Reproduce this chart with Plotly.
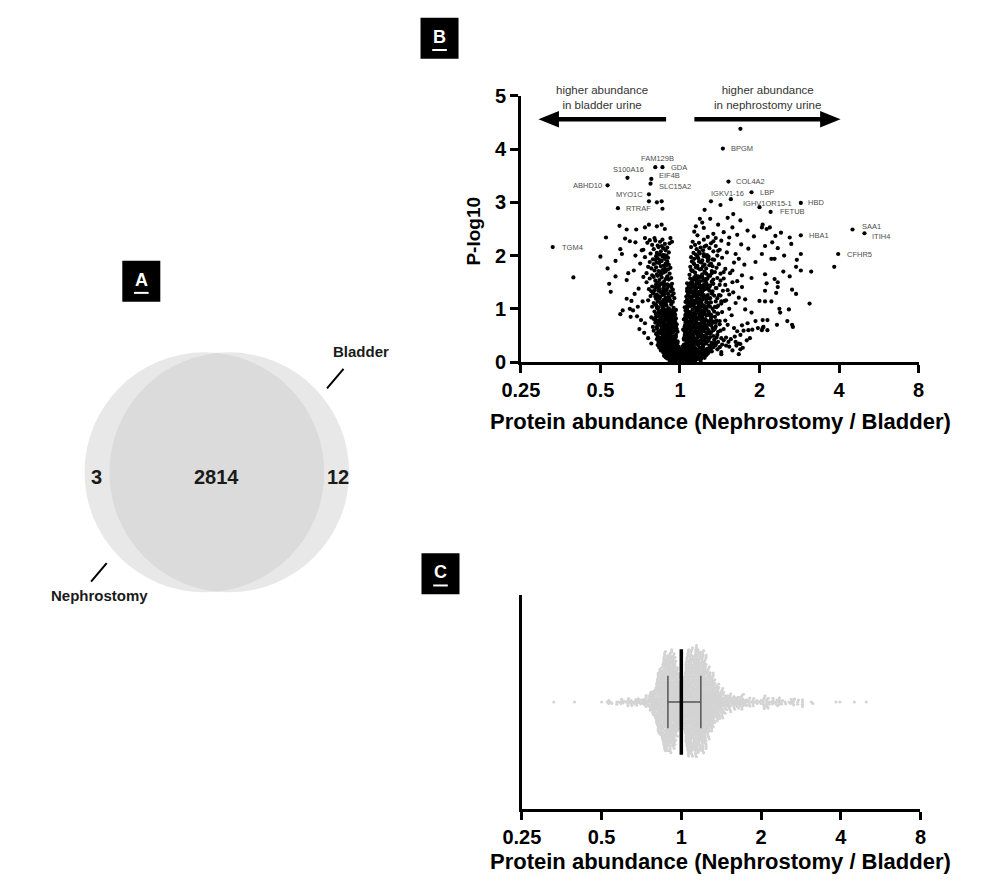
import numpy as np
import plotly.graph_objects as go

W, H = 983, 892
FONT = "Liberation Sans, Arial, sans-serif"

# ---------------- Panel A: Venn counts ----------------
venn_only_nephrostomy = 3
venn_shared = 2814
venn_only_bladder = 12
venn_set_names = ["Nephrostomy", "Bladder"]

# ---------------- Panel B: labelled proteins ----------------
label_names = ["TGM4", "ABHD10", "S100A16", "FAM129B", "GDA", "EIF4B", "SLC15A2", "MYO1C", "RTRAF",
               "BPGM", "COL4A2", "LBP", "IGKV1-16", "IGHV1OR15-1", "HBD", "FETUB", "HBA1", "SAA1",
               "ITIH4", "CFHR5"]
label_log2 = [-1.60, -0.91, -0.66, -0.31, -0.22, -0.36, -0.37, -0.39, -0.78,
              0.54, 0.61, 0.90, 0.64, 1.00, 1.52, 1.14, 1.52, 2.17, 2.32, 1.99]
label_p = [2.16, 3.32, 3.46, 3.66, 3.66, 3.44, 3.35, 3.15, 2.89,
           4.01, 3.39, 3.19, 3.06, 2.91, 2.99, 2.82, 2.38, 2.49, 2.42, 2.03]
# text offset of each label from its point (px) and its anchor
label_dx = [7, -4, 1, 2, 7, 6, 6, -4, 6, 6, 6, 6, -3, 8, 5, 7, 6, 7, 6, 7]
label_dy = [0, 0, 8, 9, 0, 3, -3, 0, 0, 0, 0, 0, 6, 4, 0, 0, 0, 3, -3, 0]
label_anchor = ["left", "right", "center", "center", "left", "left", "left", "right", "left",
                "left", "left", "left", "center", "center", "left", "left", "left", "left",
                "left", "left"]

# ---------------- Panel B: unlabelled proteins ----------------
# unchanged proteins around the vertex, -log10 p 0 - 0.3
vertex_log2 = [
    .00, -.02, .03, -.04, .01, .05, -.06, .06, -.01, .02,
    -.03, .07, .04, -.07, -.05, .01, .08, .04, -.02, -.08,
    .03, -.04, .09, -.01, .06, -.03, -.06, .10, .00, .02,
    .05, -.09, .04, .01, -.05, .07, -.10, -.06, .03, .11,
    -.01, .02, .06, .12, -.02, .08, -.03, .04, -.07, .09,
    .00, .01, -.10, .12, .09, .10, -.08, .05, -.09, .13]
vertex_p = [
    .01, .03, .02, .05, .04, .07, .06, .02, .09, .08,
    .11, .04, .13, .10, .06, .15, .12, .03, .17, .14,
    .19, .16, .08, .21, .18, .05, .23, .20, .10, .25,
    .02, .12, .22, .07, .27, .14, .24, .09, .29, .17,
    .01, .06, .11, .16, .21, .26, .04, .09, .14, .19,
    .13, .18, .08, .28, .31, .03, .20, .26, .05, .15]

# lower in bladder urine, -log10 p 0 - 0.5
left_low_log2 = [
    -.02, -.05, -.01, -.08, -.04, -.11, -.03, -.07, -.09, -.13,
    -.06, -.02, -.10, -.05, -.12, -.08, -.14, -.01, -.04, -.11,
    -.07, -.13, -.03, -.16, -.09, -.05, -.12, -.15, -.02, -.10,
    -.04, -.14, -.08, -.17, -.11, -.02, -.06, -.19, -.13, -.09,
    -.16, -.05, -.12, -.20, -.09, -.15, -.03, -.11, -.18, -.07,
    -.13, -.21, -.06, -.17, -.10, -.03, -.19, -.14, -.08, -.22,
    -.12, -.05, -.18, -.09, -.24, -.15, -.11, -.20, -.07, -.16,
    -.04, -.13, -.21, -.08, -.17, -.25, -.11, -.19, -.14, -.06,
    -.22, -.10, -.16, -.26, -.13, -.07, -.20, -.15, -.18, -.11,
    -.09, -.23, -.17, -.12, -.27, -.19, -.05, -.14, -.21, -.16,
    -.03, -.09, -.06, -.12, -.01, -.14, -.16, -.18, -.05, -.20,
    -.07, -.21, -.14, -.10, -.17, -.15, -.12, -.24, -.15, -.01,
    -.26, -.13, -.02, -.21, -.10, -.28, -.15, -.03, -.08, -.23,
    -.29, -.03, -.13, -.18, -.08, -.24, -.28, -.10, -.27, -.20]
left_low_p = [
    .01, .02, .03, .02, .04, .01, .05, .03, .06, .02,
    .05, .07, .04, .08, .06, .09, .07, .05, .10, .08,
    .10, .11, .09, .12, .13, .11, .14, .10, .12, .15,
    .14, .16, .15, .17, .18, .16, .19, .17, .20, .18,
    .19, .21, .20, .22, .21, .23, .22, .24, .20, .25,
    .24, .26, .25, .27, .26, .28, .27, .29, .25, .30,
    .29, .31, .30, .32, .31, .33, .32, .34, .30, .35,
    .34, .36, .35, .37, .36, .38, .37, .39, .35, .40,
    .39, .41, .40, .42, .41, .43, .42, .44, .40, .45,
    .44, .46, .45, .47, .46, .48, .47, .49, .45, .50,
    .03, .06, .08, .04, .11, .13, .07, .09, .15, .12,
    .16, .18, .21, .19, .23, .17, .26, .22, .28, .24,
    .27, .31, .29, .33, .35, .32, .38, .36, .41, .37,
    .43, .39, .46, .42, .48, .44, .49, .47, .38, .50]

# lower in bladder urine, -log10 p 0.5 - 1.0
left_mid_log2 = [
    -.05, -.12, -.19, -.25, -.09, -.30, -.15, -.03, -.22, -.11,
    -.17, -.07, -.27, -.13, -.21, -.33, -.04, -.10, -.24, -.18,
    -.08, -.20, -.14, -.29, -.05, -.23, -.11, -.17, -.34, -.26,
    -.13, -.04, -.21, -.09, -.28, -.16, -.31, -.07, -.19, -.24,
    -.22, -.11, -.06, -.18, -.14, -.27, -.09, -.33, -.15, -.05,
    -.10, -.25, -.17, -.07, -.20, -.13, -.29, -.22, -.36, -.12,
    -.16, -.06, -.23, -.30, -.11, -.19, -.08, -.14, -.26, -.21,
    -.27, -.13, -.09, -.24, -.17, -.32, -.05, -.20, -.12, -.28,
    -.14, -.16, -.18, -.20, -.23, -.15, -.18, -.10, -.08, -.26,
    -.21, -.23, -.12, -.14, -.30, -.19, -.25, -.15, -.20, -.08,
    -.16, -.10, -.22, -.17, -.12, -.24, -.13, -.07, -.22, -.31,
    -.27, -.29, -.07, -.25, -.18, -.09, -.17, -.26, -.20, -.21]
left_mid_p = [
    .51, .53, .52, .54, .55, .53, .56, .57, .52, .58,
    .57, .59, .58, .60, .61, .59, .62, .63, .60, .64,
    .63, .65, .64, .66, .67, .65, .68, .69, .66, .70,
    .69, .71, .70, .72, .73, .71, .74, .75, .72, .76,
    .75, .77, .76, .78, .79, .77, .80, .81, .78, .82,
    .81, .83, .82, .84, .85, .83, .86, .87, .84, .88,
    .87, .89, .88, .90, .91, .89, .92, .93, .90, .94,
    .93, .95, .94, .96, .97, .95, .98, .99, .96, 1.0,
    .54, .62, .68, .74, .80, .86, .92, .97, .58, .71,
    .55, .61, .67, .73, .79, .85, .91, .98, .64, .77,
    .52, .60, .66, .70, .76, .82, .88, .94, .99, .84,
    .56, .63, .69, .75, .80, .86, .90, .95, .62, .79]

# lower in bladder urine, -log10 p 1.0 - 1.5
left_high_log2 = [
    -.14, -.27, -.08, -.21, -.35, -.17, -.11, -.30, -.24, -.19,
    -.33, -.09, -.23, -.16, -.28, -.40, -.13, -.20, -.26, -.07,
    -.18, -.31, -.25, -.10, -.37, -.22, -.15, -.29, -.08, -.34,
    -.24, -.12, -.19, -.32, -.27, -.09, -.21, -.39, -.16, -.29,
    -.11, -.26, -.35, -.19, -.14, -.30, -.23, -.10, -.28, -.42,
    -.22, -.25, -.30, -.27, -.22, -.26, -.20, -.24, -.31, -.20,
    -.29, -.18, -.21, -.14, -.33, -.17, -.31, -.16, -.12, -.36]
left_high_p = [
    1.01, 1.03, 1.02, 1.05, 1.04, 1.06, 1.08, 1.07, 1.09, 1.10,
    1.11, 1.13, 1.12, 1.15, 1.14, 1.16, 1.18, 1.17, 1.19, 1.20,
    1.21, 1.23, 1.22, 1.25, 1.24, 1.26, 1.28, 1.27, 1.29, 1.30,
    1.31, 1.33, 1.32, 1.35, 1.34, 1.36, 1.38, 1.37, 1.39, 1.40,
    1.41, 1.43, 1.42, 1.45, 1.44, 1.46, 1.48, 1.47, 1.49, 1.50,
    1.04, 1.12, 1.19, 1.24, 1.32, 1.37, 1.43, 1.47, 1.08, 1.27,
    1.02, 1.10, 1.16, 1.22, 1.29, 1.35, 1.41, 1.46, 1.14, 1.33]

# lower in bladder urine, -log10 p 1.5 - 2.3
left_top_log2 = [
    -.20, -.31, -.14, -.26, -.38, -.18, -.23, -.11, -.33, -.28,
    -.16, -.24, -.35, -.13, -.29, -.21, -.42, -.18, -.25, -.32,
    -.27, -.15, -.22, -.36, -.19, -.30, -.12, -.24, -.40, -.17,
    -.21, -.33, -.14, -.26, -.18, -.38, -.29, -.23, -.16, -.31,
    -.25, -.19, -.34, -.15, -.28, -.22, -.44, -.17, -.30, -.26,
    -.20, -.37, -.14, -.29, -.24, -.18, -.33, -.46, -.21, -.27,
    -.16, -.23, -.35, -.28, -.19, -.41, -.13, -.25, -.31, -.22]
left_top_p = [
    1.51, 1.53, 1.55, 1.54, 1.57, 1.56, 1.59, 1.58, 1.60, 1.62,
    1.61, 1.64, 1.63, 1.66, 1.65, 1.68, 1.67, 1.70, 1.69, 1.72,
    1.71, 1.74, 1.73, 1.76, 1.75, 1.78, 1.77, 1.80, 1.79, 1.82,
    1.81, 1.84, 1.83, 1.86, 1.85, 1.88, 1.87, 1.90, 1.89, 1.92,
    1.91, 1.94, 1.93, 1.96, 1.95, 1.98, 1.97, 2.00, 1.99, 2.02,
    2.01, 2.04, 2.06, 2.05, 2.08, 2.10, 2.12, 2.11, 2.14, 2.16,
    2.15, 2.18, 2.20, 2.19, 2.22, 2.24, 2.23, 2.26, 2.28, 2.30]

# scattered proteins higher in bladder urine
left_sparse_log2 = [
    -.39, -.29, -.23, -.22, -.76, -.67, -.55, -.44, -.39, -.29, -.23, -.19,
    -.93, -.69, -.63, -.56, -.44, -.38, -.32, -.12, -.10, -1.0, -.81, -.75,
    -.73, -.56, -.22, -.91, -.81, -.65, -.67, -.89, -.87, -.67, -.61, -.72,
    -.59, -.53, -.47, -.54, -.49, -.44, -.63, -1.34, -.75, -.50, -.58, -.48,
    -.52, -.57, -.46, -.62, -.51, -.45, -.40, -.36]
left_sparse_p = [
    3.02, 3.00, 3.02, 2.88, 2.56, 2.49, 2.49, 2.53, 2.58, 2.55, 2.58, 2.50,
    2.34, 2.32, 2.27, 2.25, 2.33, 2.29, 2.33, 2.33, 2.26, 1.98, 1.90, 2.12,
    2.03, 2.00, 2.01, 1.76, 1.61, 1.67, 1.54, 1.47, 1.32, 1.19, 1.15, .97,
    .97, 1.04, 1.14, .86, .79, .73, 1.00, 1.59, .90, 1.85, 1.72, 2.10,
    1.38, 1.28, 1.60, .85, .62, .55, .45, .35]

# higher in nephrostomy urine, -log10 p 0 - 0.5
right_low_log2 = [
    .01, .04, .08, .02, .12, .06, .15, .03, .19, .10,
    .05, .13, .02, .21, .09, .17, .04, .25, .11, .07,
    .14, .03, .23, .08, .18, .28, .12, .06, .33, .16,
    .10, .20, .04, .26, .14, .36, .07, .22, .30, .17,
    .05, .13, .24, .31, .09, .19, .39, .15, .27, .06,
    .21, .11, .34, .07, .17, .42, .25, .13, .29, .09,
    .16, .37, .06, .23, .12, .30, .45, .19, .09, .27,
    .08, .22, .33, .14, .40, .18, .26, .11, .48, .31,
    .24, .10, .36, .17, .29, .07, .43, .21, .14, .52,
    .19, .34, .09, .27, .46, .15, .38, .23, .12, .31,
    .18, .27, .20, .32, .34, .38, .41, .44, .55, .58,
    .22, .29, .35, .40, .47, .50, .53, .61, .64, .69,
    .00, .01, .02, .03, .04, .05, .06, .08, .05, .07,
    .74, .66, .79, .76, .58, .84, .52, .70, .88, .62]
right_low_p = [
    .01, .02, .01, .03, .02, .04, .03, .05, .02, .04,
    .05, .06, .07, .05, .08, .06, .09, .07, .10, .08,
    .09, .11, .10, .12, .11, .13, .12, .14, .13, .15,
    .14, .16, .15, .17, .16, .18, .17, .19, .18, .20,
    .19, .21, .20, .22, .21, .23, .22, .24, .23, .25,
    .24, .26, .25, .27, .26, .28, .27, .29, .28, .30,
    .29, .31, .30, .32, .31, .33, .32, .34, .33, .35,
    .34, .36, .35, .37, .36, .38, .37, .39, .38, .40,
    .39, .41, .40, .42, .41, .43, .42, .44, .43, .45,
    .44, .46, .45, .47, .46, .48, .47, .49, .48, .50,
    .03, .07, .12, .15, .21, .26, .31, .36, .41, .46,
    .06, .10, .16, .20, .24, .28, .33, .38, .43, .48,
    .04, .08, .13, .18, .23, .27, .32, .37, .42, .49,
    .15, .22, .27, .34, .31, .41, .19, .38, .45, .29]

# densest part of the nephrostomy arm, -log10 p 0 - 2.0
right_dense_log2 = [
    .09, .16, .05, .24, .31, .11, .18, .27, .21, .07,
    .13, .26, .08, .35, .19, .04, .29, .22, .15, .38,
    .10, .21, .33, .05, .27, .16, .12, .40, .24, .18,
    .28, .07, .17, .36, .23, .13, .42, .20, .31, .09,
    .16, .26, .08, .34, .13, .21, .29, .11, .39, .19,
    .24, .14, .32, .07, .19, .41, .11, .27, .17, .35,
    .12, .30, .20, .26, .08, .37, .15, .23, .43, .18,
    .22, .10, .34, .16, .28, .13, .25, .39, .19, .31,
    .15, .27, .09, .36, .21, .12, .33, .18, .24, .41,
    .20, .31, .12, .26, .16, .38, .23, .09, .29, .18,
    .25, .14, .33, .19, .28, .10, .22, .36, .17, .30,
    .13, .27, .19, .34, .23, .16, .40, .21, .30, .11,
    .24, .18, .31, .12, .27, .37, .20, .15, .29, .22,
    .19, .32, .14, .26, .21, .38, .16, .28, .12, .24,
    .25, .17, .35, .21, .13, .30, .23, .40, .18, .28,
    .02, .05, .03, .12, .06, .10, .14, .20, .01, .26,
    .05, .06, .06, .07, .07, .08, .09, .09, .10, .11,
    .45, .47, .44, .50, .48, .46, .52, .49, .45, .51,
    .20, .33, .15, .27, .41, .18, .24, .36, .22, .30,
    .32, .28, .26, .24, .30, .27, .28, .33, .26, .35]
right_dense_p = [
    .05, .09, .12, .16, .08, .14, .18, .11, .07, .19,
    .22, .25, .28, .21, .27, .24, .29, .23, .26, .30,
    .32, .35, .38, .33, .37, .34, .39, .31, .36, .40,
    .42, .45, .48, .43, .47, .44, .49, .41, .46, .50,
    .52, .55, .58, .53, .57, .54, .59, .51, .56, .60,
    .62, .65, .68, .63, .67, .64, .69, .61, .66, .70,
    .72, .75, .78, .73, .77, .74, .79, .71, .76, .80,
    .82, .85, .88, .83, .87, .84, .89, .81, .86, .90,
    .92, .95, .98, .93, .97, .94, .99, .91, .96, 1.0,
    1.02, 1.05, 1.08, 1.03, 1.07, 1.04, 1.09, 1.01, 1.06, 1.10,
    1.12, 1.15, 1.18, 1.13, 1.17, 1.14, 1.19, 1.11, 1.16, 1.20,
    1.22, 1.25, 1.28, 1.23, 1.27, 1.24, 1.29, 1.21, 1.26, 1.30,
    1.32, 1.35, 1.38, 1.33, 1.37, 1.34, 1.39, 1.31, 1.36, 1.40,
    1.42, 1.45, 1.48, 1.43, 1.47, 1.44, 1.49, 1.41, 1.46, 1.50,
    1.52, 1.55, 1.58, 1.53, 1.57, 1.54, 1.59, 1.51, 1.56, 1.60,
    .03, .06, .10, .13, .17, .20, .04, .08, .15, .02,
    .45, .57, .66, .74, .87, .95, 1.05, 1.17, 1.27, 1.36,
    .35, .51, .63, .77, .91, 1.03, 1.14, 1.26, 1.39, 1.53,
    1.62, 1.66, 1.71, 1.75, 1.80, 1.84, 1.89, 1.93, 1.98, 2.03,
    .15, .28, .40, .55, .68, .82, .97, 1.12, 1.28, 1.44]

# higher in nephrostomy urine, -log10 p 0.5 - 1.0
right_mid_log2 = [
    .06, .15, .27, .38, .10, .21, .33, .48, .13, .24,
    .18, .08, .30, .42, .14, .25, .55, .11, .36, .20,
    .09, .23, .34, .16, .45, .28, .12, .39, .19, .60,
    .26, .07, .17, .31, .22, .50, .14, .37, .09, .29,
    .11, .20, .41, .13, .27, .35, .08, .24, .57, .18,
    .32, .15, .06, .22, .44, .28, .12, .38, .19, .65,
    .10, .25, .33, .17, .47, .07, .21, .30, .14, .53,
    .19, .36, .12, .27, .08, .43, .23, .16, .31, .62,
    .12, .14, .18, .11, .16, .19, .16, .11, .21, .31,
    .21, .27, .23, .20, .32, .25, .29, .24, .45, .40,
    .35, .04, .06, .40, .05, .09, .39, .07, .51, .46,
    .72, .68, .86, .78, .95, 1.05, 1.10, 1.22, .90, .82]
right_mid_p = [
    .51, .53, .52, .54, .55, .53, .56, .57, .52, .58,
    .57, .59, .58, .60, .61, .59, .62, .63, .60, .64,
    .63, .65, .64, .66, .67, .65, .68, .69, .66, .70,
    .69, .71, .70, .72, .73, .71, .74, .75, .72, .76,
    .75, .77, .76, .78, .79, .77, .80, .81, .78, .82,
    .81, .83, .82, .84, .85, .83, .86, .87, .84, .88,
    .87, .89, .88, .90, .91, .89, .92, .93, .90, .94,
    .93, .95, .94, .96, .97, .95, .98, .99, .96, 1.0,
    .54, .60, .66, .71, .77, .83, .88, .93, .98, .63,
    .56, .62, .68, .73, .79, .85, .90, .95, .74, .86,
    .55, .61, .67, .72, .80, .84, .89, .97, .59, .78,
    .58, .64, .60, .69, .77, .66, .79, .70, .93, .99]

# higher in nephrostomy urine, -log10 p 1.0 - 1.5
right_high_log2 = [
    .08, .19, .31, .13, .44, .24, .10, .36, .17, .52,
    .27, .11, .39, .21, .15, .58, .33, .09, .25, .47,
    .14, .30, .22, .43, .10, .35, .18, .62, .28, .12,
    .23, .41, .16, .29, .54, .11, .34, .20, .46, .26,
    .37, .13, .25, .50, .18, .31, .09, .42, .22, .66,
    .22, .28, .19, .26, .33, .21, .27, .31, .17, .24,
    .35, .14, .45, .37, .17, .40, .19, .14, .29, .33,
    .48, .56, .51, .60, .57, .70, .74, .67, .78, .82,
    .06, .07, .08, .09, .11, .16, .24, .09, .13, .38]
right_high_p = [
    1.01, 1.03, 1.02, 1.05, 1.04, 1.06, 1.08, 1.07, 1.09, 1.10,
    1.11, 1.13, 1.12, 1.15, 1.14, 1.16, 1.18, 1.17, 1.19, 1.20,
    1.21, 1.23, 1.22, 1.25, 1.24, 1.26, 1.28, 1.27, 1.29, 1.30,
    1.31, 1.33, 1.32, 1.35, 1.34, 1.36, 1.38, 1.37, 1.39, 1.40,
    1.41, 1.43, 1.42, 1.45, 1.44, 1.46, 1.48, 1.47, 1.49, 1.50,
    1.02, 1.07, 1.12, 1.17, 1.22, 1.27, 1.32, 1.37, 1.42, 1.47,
    1.04, 1.09, 1.14, 1.19, 1.24, 1.29, 1.34, 1.39, 1.44, 1.49,
    1.06, 1.15, 1.25, 1.35, 1.45, 1.11, 1.21, 1.31, 1.41, 1.18,
    1.03, 1.13, 1.23, 1.33, 1.43, 1.08, 1.28, 1.38, 1.48, 1.20]

# higher in nephrostomy urine, -log10 p 1.5 - 2.3
right_top_log2 = [
    .15, .29, .42, .21, .55, .34, .18, .47, .26, .38,
    .23, .12, .36, .51, .28, .19, .63, .31, .44, .16,
    .40, .25, .14, .33, .57, .20, .46, .29, .13, .37,
    .22, .49, .31, .17, .39, .26, .68, .35, .15, .43,
    .28, .18, .41, .53, .23, .36, .14, .47, .30, .20,
    .34, .25, .59, .17, .42, .29, .21, .50, .37, .14,
    .26, .45, .19, .33, .61, .24, .39, .16, .52, .30,
    .72, .78, .66, .81, .74, .70, .86, .77, .90, .95,
    .32, .40, .22, .27, .34, .24, .31, .42, .55, .48]
right_top_p = [
    1.51, 1.53, 1.55, 1.54, 1.57, 1.56, 1.59, 1.58, 1.60, 1.62,
    1.61, 1.64, 1.63, 1.66, 1.65, 1.68, 1.67, 1.70, 1.69, 1.72,
    1.71, 1.74, 1.73, 1.76, 1.75, 1.78, 1.77, 1.80, 1.79, 1.82,
    1.81, 1.84, 1.83, 1.86, 1.85, 1.88, 1.87, 1.90, 1.89, 1.92,
    1.91, 1.94, 1.93, 1.96, 1.95, 1.98, 1.97, 2.00, 1.99, 2.02,
    2.01, 2.04, 2.06, 2.05, 2.08, 2.10, 2.12, 2.11, 2.14, 2.16,
    2.15, 2.18, 2.20, 2.19, 2.22, 2.24, 2.23, 2.26, 2.28, 2.30,
    1.52, 1.63, 1.72, 1.83, 1.94, 2.03, 2.13, 2.21, 1.58, 1.88,
    1.56, 1.67, 1.77, 1.87, 1.97, 2.07, 2.17, 2.27, 1.69, 2.09]

# scattered proteins higher in nephrostomy urine
right_sparse_log2 = [
    .39, .31, .51, .25, .38, .60, .67, .76, .66, 1.03, 1.09, 1.04, 1.13, 1.27, 1.20,
    1.38, .18, .22, .30, .42, .48, .35, .55, .72, .85, .28, .45, .93, .20, .62,
    1.07, 1.19, 1.23, 1.30, 1.38, 1.52, 1.65, 1.46, 1.47, 1.52, 1.03, 1.15, 1.19,
    1.31, 1.07, 1.16, 1.23, 1.40, 1.94,
    1.07, 1.21, 1.41, 1.46, 1.00, 1.07, 1.15, 1.63, 1.23, 1.09,
    1.04, 1.04, 1.10, 1.35, 1.41, 1.42, 1.26, 1.37, 1.25, .76, .80, .91, .98, 1.03, .85,
    .76, .52, .71, .74, .76]
right_sparse_p = [
    3.02, 2.86, 2.95, 2.69, 2.69, 2.71, 2.78, 2.66, 2.53, 2.53, 2.50, 2.58, 2.53, 2.43, 2.37,
    2.34, 2.45, 2.38, 2.52, 2.41, 2.58, 2.35, 2.44, 2.39, 2.47, 2.62, 2.33, 2.36, 2.55, 2.34,
    1.65, 1.56, 1.50, 1.70, 1.61, 1.72, 1.70, 1.79, 1.92, 2.03, 2.03, 1.94, 1.94,
    2.00, 2.18, 2.25, 2.14, 2.22, 1.79,
    1.34, 1.30, 1.36, 1.28, 1.15, 1.14, 1.14, 1.10, 1.41, 1.48,
    .79, .64, .60, .77, .70, .66, .93, .99, 1.00, .51, .59, .61, .64, .60, .73,
    .24, .15, .31, .35, 4.38]

# ---------------- Panel C: summary lines ----------------
ratio_median = 1.0
ratio_q1 = 0.89
ratio_q3 = 1.185

# ---------------- axis ticks ----------------
x_tick_vals = [0.25, 0.5, 1, 2, 4, 8]
x_tick_text = ["0.25", "0.5", "1", "2", "4", "8"]
y_tick_vals = [0, 1, 2, 3, 4, 5]

x_title = "Protein abundance (Nephrostomy / Bladder)"
y_title = "P-log10"

# ---------------- assemble points ----------------
groups = [(vertex_log2, vertex_p),
          (left_low_log2, left_low_p), (left_mid_log2, left_mid_p),
          (left_high_log2, left_high_p), (left_top_log2, left_top_p),
          (left_sparse_log2, left_sparse_p), (right_low_log2, right_low_p),
          (right_dense_log2, right_dense_p),
          (right_mid_log2, right_mid_p), (right_high_log2, right_high_p),
          (right_top_log2, right_top_p), (right_sparse_log2, right_sparse_p),
          (label_log2, label_p)]
all_log2, all_p = [], []
for gx, gy in groups:
    if len(gx) != len(gy):
        raise ValueError(f"length mismatch {len(gx)} vs {len(gy)}")
    all_log2 += list(gx)
    all_p += list(gy)
all_log2 = np.array(all_log2, dtype=float)
all_p = np.array(all_p, dtype=float)
all_ratio = 2.0 ** all_log2


def pxx(x):
    return x / W


def pxy(y):
    return 1 - y / H


# panel geometry in pixels
B_L, B_R, B_T, B_B = 515, 923, 87, 360
C_L, C_R, C_T, C_B = 516, 925, 599, 818

fig = go.Figure()

# ---- volcano points
fig.add_trace(go.Scatter(
    x=all_ratio, y=all_p, mode="markers", xaxis="x", yaxis="y",
    marker=dict(size=4.2, color="black", line=dict(width=0)),
    cliponaxis=False, hoverinfo="skip", showlegend=False))

# ---- swarm layout (pixel space) for panel C
px_per_log2 = (C_R - C_L) / 5.0
px_per_y = (C_B - C_T) / 2.0
d = 2.25
xs = all_log2 * px_per_log2
order = np.argsort(xs, kind="stable")
placed_x, placed_y = [], []
swarm_y = np.zeros(len(xs))
start = 0
for i in order:
    x = xs[i]
    while start < len(placed_x) and placed_x[start] < x - d:
        start += 1
    nx = np.array(placed_x[start:])
    ny = np.array(placed_y[start:])
    cands = [0.0]
    if len(nx):
        dx = x - nx
        h = np.sqrt(np.maximum(d * d - dx * dx, 0))
        cands += list(ny + h) + list(ny - h)
    cands = sorted(cands, key=lambda c: (abs(c), c))
    chosen = 0.0
    for c in cands:
        if len(nx) == 0 or np.all((x - nx) ** 2 + (c - ny) ** 2 >= d * d - 1e-6):
            chosen = c
            break
    placed_x.append(x)
    placed_y.append(chosen)
    swarm_y[i] = chosen
swarm_y_data = swarm_y / px_per_y

fig.add_trace(go.Scatter(
    x=all_ratio, y=swarm_y_data, mode="markers", xaxis="x2", yaxis="y2",
    marker=dict(size=3.1, color="#d3d3d3", line=dict(width=0)),
    hoverinfo="skip", showlegend=False))

half_h = 54 / px_per_y
cap_h = 27 / px_per_y
fig.add_trace(go.Scatter(x=[ratio_q1, ratio_q3], y=[0, 0], mode="lines", xaxis="x2", yaxis="y2",
                         line=dict(color="#555555", width=1.5), showlegend=False, hoverinfo="skip"))
for q in (ratio_q1, ratio_q3):
    fig.add_trace(go.Scatter(x=[q, q], y=[-cap_h, cap_h], mode="lines", xaxis="x2", yaxis="y2",
                             line=dict(color="#555555", width=1.5), showlegend=False, hoverinfo="skip"))
fig.add_trace(go.Scatter(x=[ratio_median, ratio_median], y=[-half_h, half_h], mode="lines",
                         xaxis="x2", yaxis="y2", line=dict(color="black", width=3.5),
                         showlegend=False, hoverinfo="skip"))

# ---- axes
tickfont = dict(family=FONT, size=20, color="black", weight="bold")
common_x = dict(type="log", range=[np.log10(0.25), np.log10(8)], tickvals=x_tick_vals,
                ticktext=x_tick_text, showline=True, linecolor="black", linewidth=2.6,
                ticks="outside", ticklen=8, tickwidth=2.6, tickcolor="black",
                showgrid=False, zeroline=False, tickfont=tickfont)
layout_axes = dict(
    xaxis=dict(domain=[pxx(B_L), pxx(B_R)], anchor="y", **common_x),
    yaxis=dict(domain=[pxy(B_B), pxy(B_T)], anchor="x", range=[0, 5], tickvals=y_tick_vals,
               showline=True, linecolor="black", linewidth=2.6, ticks="outside", ticklen=8,
               tickwidth=2.6, tickcolor="black", showgrid=False, zeroline=False, tickfont=tickfont),
    xaxis2=dict(domain=[pxx(C_L), pxx(C_R)], anchor="y2", **common_x),
    yaxis2=dict(domain=[pxy(C_B), pxy(C_T)], anchor="x2", range=[-1, 1], showline=True,
                linecolor="black", linewidth=2.6, ticks="", showticklabels=False,
                showgrid=False, zeroline=False),
)

# ---- Venn axis (equal scale, radius = 1 unit = 123 px)
V_CX, V_CY, V_R = 203, 473, 123
span = 1.6
layout_axes["xaxis3"] = dict(domain=[pxx(V_CX - span * V_R), pxx(V_CX + span * V_R)], anchor="y3",
                             range=[-span, span], visible=False)
layout_axes["yaxis3"] = dict(domain=[pxy(V_CY + span * V_R), pxy(V_CY - span * V_R)], anchor="x3",
                             range=[-span, span], visible=False)

shapes = []
annotations = []
venn_offset = 0.104
for cx in (-venn_offset, venn_offset):
    shapes.append(dict(type="circle", xref="x3", yref="y3", x0=cx - 1, x1=cx + 1, y0=-1, y1=1,
                       fillcolor="rgba(200,200,200,0.42)", line=dict(width=0), layer="below"))
venn_font = dict(family=FONT, size=20, color="#1a1a1a", weight="bold")
for val, vx in ((venn_only_nephrostomy, -1.0), (venn_shared, 0.0), (venn_only_bladder, 1.01)):
    annotations.append(dict(xref="x3", yref="y3", x=vx, y=-0.04, text=str(val), showarrow=False,
                            font=venn_font, xanchor="center", yanchor="middle"))
set_font = dict(family=FONT, size=15, color="#1a1a1a", weight="bold")
annotations.append(dict(xref="x3", yref="y3", x=0.955, y=1.008, text=venn_set_names[1],
                        showarrow=False, font=set_font, xanchor="left", yanchor="middle"))
annotations.append(dict(xref="x3", yref="y3", x=-0.98, y=-1.03, text=venn_set_names[0],
                        showarrow=False, font=set_font, xanchor="center", yanchor="middle"))
shapes.append(dict(type="line", xref="x3", yref="y3", x0=0.919, y0=0.699, x1=1.057, y1=0.862,
                   line=dict(color="black", width=2)))
shapes.append(dict(type="line", xref="x3", yref="y3", x0=-1.049, y0=-0.911, x1=-0.919, y1=-0.756,
                   line=dict(color="black", width=2)))

# ---- panel letter boxes
for letter, (l, t) in (("A", (106, 256)), ("B", (412, 7)), ("C", (413, 556))):
    shapes.append(dict(type="rect", xref="paper", yref="paper", x0=pxx(l), x1=pxx(l + 39),
                       y0=pxy(t + 42), y1=pxy(t), fillcolor="black", line=dict(width=0)))
    shapes.append(dict(type="line", xref="paper", yref="paper", x0=pxx(l + 12), x1=pxx(l + 27),
                       y0=pxy(t + 33), y1=pxy(t + 33), line=dict(color="white", width=2)))
    annotations.append(dict(xref="paper", yref="paper", x=pxx(l + 19.5), y=pxy(t + 19.5),
                            text=letter, showarrow=False, xanchor="center", yanchor="middle",
                            font=dict(family=FONT, size=18, color="white", weight="bold")))

# ---- direction arrows in panel B
AY = 111
shapes.append(dict(type="line", xref="paper", yref="paper", x0=pxx(550), x1=pxx(664),
                   y0=pxy(AY), y1=pxy(AY), line=dict(color="black", width=4.5)))
shapes.append(dict(type="path", xref="paper", yref="paper",
                   path=f"M {pxx(533)} {pxy(AY)} L {pxx(554)} {pxy(AY - 8.5)} L {pxx(554)} {pxy(AY + 8.5)} Z",
                   fillcolor="black", line=dict(width=0)))
shapes.append(dict(type="line", xref="paper", yref="paper", x0=pxx(693), x1=pxx(826),
                   y0=pxy(AY), y1=pxy(AY), line=dict(color="black", width=4.5)))
shapes.append(dict(type="path", xref="paper", yref="paper",
                   path=f"M {pxx(843)} {pxy(AY)} L {pxx(822)} {pxy(AY - 8.5)} L {pxx(822)} {pxy(AY + 8.5)} Z",
                   fillcolor="black", line=dict(width=0)))
arrow_font = dict(family=FONT, size=11.5, color="#333333")
annotations.append(dict(xref="paper", yref="paper", x=pxx(598), y=pxy(89),
                        text="higher abundance<br>in bladder urine", showarrow=False,
                        font=arrow_font, xanchor="center", yanchor="middle"))
annotations.append(dict(xref="paper", yref="paper", x=pxx(768), y=pxy(89),
                        text="higher abundance<br>in nephrostomy urine", showarrow=False,
                        font=arrow_font, xanchor="center", yanchor="middle"))

# ---- protein labels
lab_font = dict(family=FONT, size=7.5, color="#4d4d4d")
for name, lx, ly, dx, dy, anc in zip(label_names, label_log2, label_p, label_dx, label_dy,
                                     label_anchor):
    annotations.append(dict(xref="x", yref="y", x=lx * np.log10(2), y=ly, text=name,
                            showarrow=False, xanchor=anc, yanchor="middle", xshift=dx,
                            yshift=dy, font=lab_font))

# ---- axis titles
title_font = dict(family=FONT, size=22, color="black", weight="bold")
annotations.append(dict(xref="paper", yref="paper", x=pxx(720), y=pxy(421), text=x_title,
                        showarrow=False, font=title_font, xanchor="center", yanchor="middle"))
annotations.append(dict(xref="paper", yref="paper", x=pxx(720), y=pxy(872), text=x_title,
                        showarrow=False, font=title_font, xanchor="center", yanchor="middle"))
annotations.append(dict(xref="paper", yref="paper", x=pxx(466), y=pxy(226), text=y_title,
                        showarrow=False, font=dict(family=FONT, size=19, color="black",
                                                   weight="bold"),
                        textangle=-90, xanchor="center", yanchor="middle"))

fig.update_layout(width=W, height=H, margin=dict(l=0, r=0, t=0, b=0),
                  paper_bgcolor="white", plot_bgcolor="white", showlegend=False,
                  shapes=shapes, annotations=annotations, **layout_axes)

fig.write_html("out.html")
